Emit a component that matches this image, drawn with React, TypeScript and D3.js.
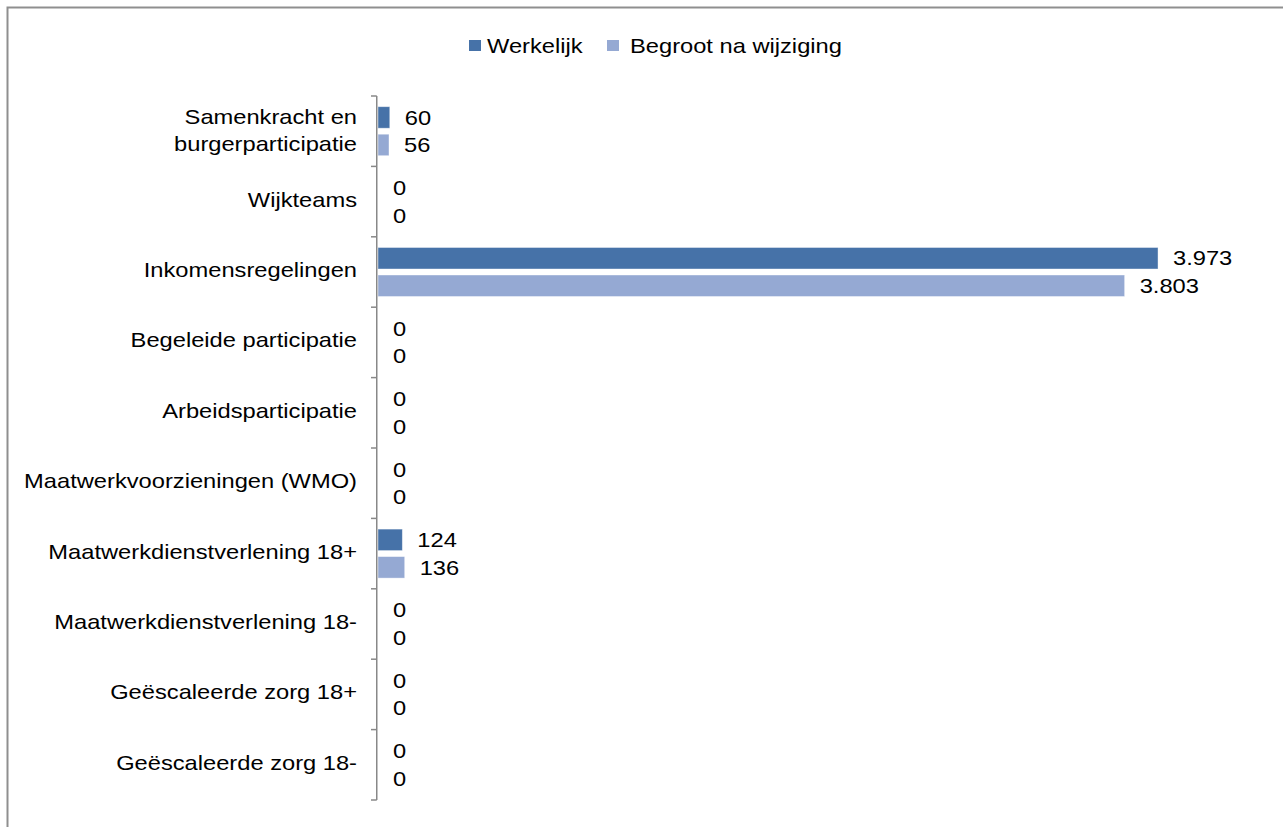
import React from "react";
import * as d3 from "d3";

const categories: string[] = [
  "Samenkracht en\nburgerparticipatie",
  "Wijkteams",
  "Inkomensregelingen",
  "Begeleide participatie",
  "Arbeidsparticipatie",
  "Maatwerkvoorzieningen (WMO)",
  "Maatwerkdienstverlening 18+",
  "Maatwerkdienstverlening 18-",
  "Geëscaleerde zorg 18+",
  "Geëscaleerde zorg 18-",
];
const seriesNames: string[] = ["Werkelijk", "Begroot na wijziging"];
const werkelijk: number[] = [60, 0, 3973, 0, 0, 0, 124, 0, 0, 0];
const begroot: number[] = [56, 0, 3803, 0, 0, 0, 136, 0, 0, 0];
const xMax = 4500;

const colors = ["#4672A8", "#95A9D3"];
const FONT = "'Liberation Sans', Arial, sans-serif";
const FS = 20;
const SX = 1.185;

const nl = d3.formatLocale({ decimal: ",", thousands: ".", grouping: [3], currency: ["€", ""] });
const fmt = nl.format(",d");

export default function App() {
  const W = 1283;
  const H = 827;
  const axisX = 376.75;
  const x = d3.scaleLinear().domain([0, xMax]).range([378, 378 + 0.19633 * xMax]);
  const y = d3.scaleBand<string>().domain(categories).range([96, 800]).paddingInner(0).paddingOuter(0);
  const inner = d3
    .scaleBand<string>()
    .domain(seriesNames)
    .range([0, y.bandwidth()])
    .paddingInner(0.218)
    .paddingOuter(0.389);
  const seriesValues = [werkelijk, begroot];
  const ticks = [...categories.map((c) => y(c) as number), 800];
  const capHalf = 0.358 * FS;

  const txt = (xp: number, yp: number, s: string, anchor: string, key?: string) => (
    <g key={key} transform={`translate(${xp},${yp}) scale(${SX},1)`}>
      <text x={0} y={0} textAnchor={anchor as any} fontFamily={FONT} fontSize={FS} fill="#000">
        {s}
      </text>
    </g>
  );

  return (
    <svg
      width={W}
      height={H}
      style={{ position: "absolute", left: 0, top: 0, background: "#fff" }}
    >
      <rect x={0} y={0} width={W} height={H} fill="#fff" />
      <rect x={7.5} y={7.5} width={W + 20} height={H + 20} fill="none" stroke="#8f8f8f" strokeWidth={2} />

      {/* legend */}
      <rect x={469} y={40} width={12} height={11} fill={colors[0]} />
      {txt(487, 53, seriesNames[0], "start")}
      <rect x={607} y={40} width={12} height={11} fill={colors[1]} />
      {txt(630, 53, seriesNames[1], "start")}

      {/* bars */}
      {categories.map((c, ci) =>
        seriesNames.map((s, si) => {
          const v = seriesValues[si][ci];
          const y0 = (y(c) as number) + (inner(s) as number);
          const h = inner.bandwidth();
          const x1 = x(v);
          return (
            <g key={`${ci}-${si}`}>
              {v > 0 && (
                <rect x={x(0)} y={y0} width={x1 - x(0)} height={h} fill={colors[si]} stroke="#ffffff" strokeOpacity={0.5} strokeWidth={0.8} />
              )}
              {txt(x1 + 15, y0 + h / 2 + capHalf, fmt(v), "start")}
            </g>
          );
        })
      )}

      {/* axis */}
      <line x1={axisX} x2={axisX} y1={96} y2={800} stroke="#888" strokeWidth={1.5} />
      {ticks.map((t, i) => (
        <line key={i} x1={371} x2={axisX} y1={t} y2={t} stroke="#888" strokeWidth={1.5} />
      ))}

      {/* category labels */}
      {categories.map((c, ci) => {
        const lines = c.split("\n");
        const multi = lines.length > 1;
        const cy = (y(c) as number) + y.bandwidth() / 2 - 2.2 + (multi ? 1.5 : 0);
        const lh = 26.5;
        return lines.map((l, li) =>
          txt(357, cy + (li - (lines.length - 1) / 2) * lh + capHalf, l, "end", `c${ci}-${li}`)
        );
      })}
    </svg>
  );
}
